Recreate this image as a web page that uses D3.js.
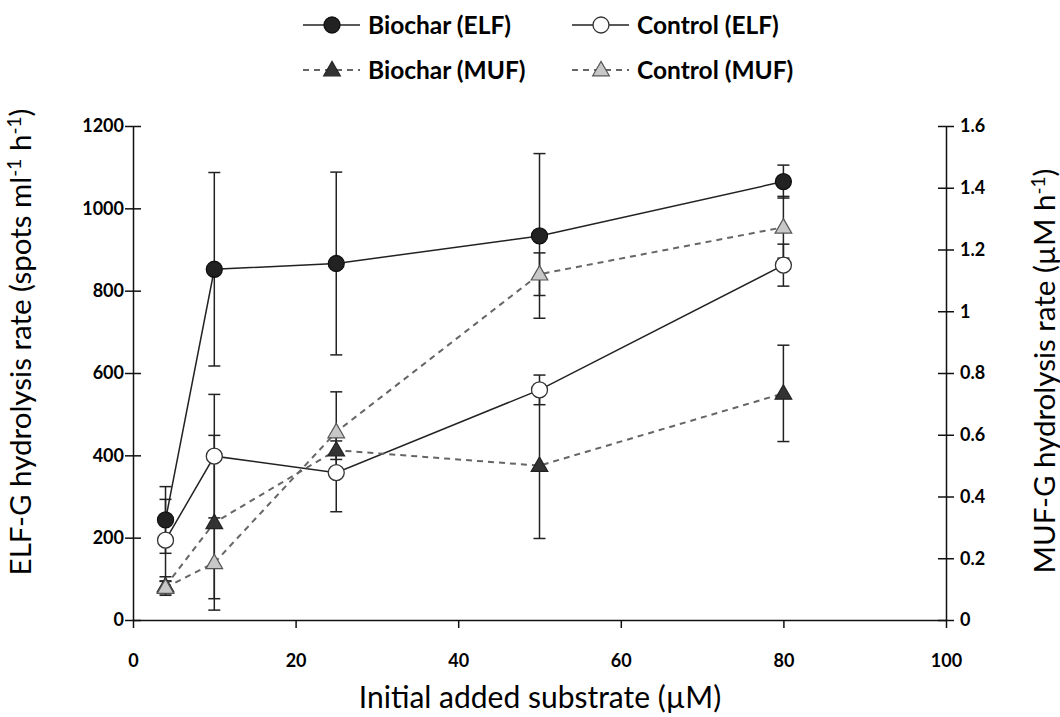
<!DOCTYPE html>
<html>
<head>
<meta charset="utf-8">
<script src="https://cdn.jsdelivr.net/npm/d3@7"></script>
<style>
  html, body { margin: 0; padding: 0; background: #fff; }
  svg { display: block; }
</style>
</head>
<body>
<svg id="chart" width="1060" height="717"></svg>
<script>
// Substrate concentrations (µM)
const substrate = [4, 10, 25, 50, 80];

// ELF-G hydrolysis rate (spots ml-1 h-1), left axis
const biocharELF    = [243, 852, 866, 933, 1065];
const biocharELFErr = [81, 235, 222, 200, 40];
const controlELF    = [194, 398, 358, 559, 862];
const controlELFErr = [99, 150, 95, 36, 51];

// MUF-G hydrolysis rate (µM h-1), right axis
const biocharMUF    = [0.11, 0.315, 0.55, 0.50, 0.734];
const biocharMUFErr = [0.03, 0.283, 0.03, 0.236, 0.156];
const controlMUF    = [0.105, 0.185, 0.609, 1.12, 1.272];
const controlMUFErr = [0.02, 0.116, 0.13, 0.069, 0.10];

// Tick values and labels
const xTicks = [0, 20, 40, 60, 80, 100];
const leftTicks = [0, 200, 400, 600, 800, 1000, 1200];
const rightTicks = [0, 0.2, 0.4, 0.6, 0.8, 1, 1.2, 1.4, 1.6];
const rightTickLabels = ["0", "0.2", "0.4", "0.6", "0.8", "1", "1.2", "1.4", "1.6"];

const svg = d3.select("#chart");
const FONT = "Lato, 'Open Sans', sans-serif";

const x  = d3.scaleLinear().domain([0, 100]).range([133, 946]);
const yL = d3.scaleLinear().domain([0, 1200]).range([620, 126]);
const yR = d3.scaleLinear().domain([0, 1.6]).range([620, 126]);

// ---- Axes ----
const axisColor = "#111";

const gx = svg.append("g")
  .attr("transform", `translate(0,${yL(0)})`)
  .call(d3.axisBottom(x).tickValues(xTicks).tickSize(8).tickSizeOuter(0).tickPadding(26)
    .tickFormat(d3.format("d")));

const gl = svg.append("g")
  .attr("transform", `translate(${x(0)},0)`)
  .call(d3.axisLeft(yL).tickValues(leftTicks).tickSize(8).tickSizeOuter(0).tickPadding(1)
    .tickFormat(d3.format("d")));
gl.selectAll(".tick line").attr("x1", 8);

const gr = svg.append("g")
  .attr("transform", `translate(${x(100)},0)`)
  .call(d3.axisRight(yR).tickValues(rightTicks).tickSize(8).tickSizeOuter(0).tickPadding(6)
    .tickFormat((d, i) => rightTickLabels[i]));
gr.selectAll(".tick line").attr("x1", -8);

[gx, gl, gr].forEach(g => {
  g.select(".domain").attr("stroke", axisColor).attr("stroke-width", 1.5);
  g.selectAll(".tick line").attr("stroke", axisColor).attr("stroke-width", 1.5);
  g.selectAll(".tick text")
    .attr("fill", "#000")
    .style("font-family", FONT)
    .style("font-weight", "bold")
    .style("font-size", "18px");
});

// ---- Axis titles ----
const TITLE_SIZE = "29.5px";
const SUP_SIZE = "19px";

svg.append("text")
  .attr("x", 540)
  .attr("y", 708)
  .attr("text-anchor", "middle")
  .style("font-family", FONT)
  .style("font-size", "30px")
  .text("Initial added substrate (µM)");

const leftTitle = svg.append("text")
  .attr("transform", "translate(31,342) rotate(-90)")
  .attr("text-anchor", "middle")
  .style("font-family", FONT)
  .style("font-size", TITLE_SIZE);
leftTitle.append("tspan").text("ELF-G hydrolysis rate (spots ml");
leftTitle.append("tspan").attr("dy", -10).style("font-size", SUP_SIZE).text("-1");
leftTitle.append("tspan").attr("dy", 10).text(" h");
leftTitle.append("tspan").attr("dy", -10).style("font-size", SUP_SIZE).text("-1");
leftTitle.append("tspan").attr("dy", 10).text(")");

const rightTitle = svg.append("text")
  .attr("transform", "translate(1055,371) rotate(-90)")
  .attr("text-anchor", "middle")
  .style("font-family", FONT)
  .style("font-size", TITLE_SIZE);
rightTitle.append("tspan").text("MUF-G hydrolysis rate (µM h");
rightTitle.append("tspan").attr("dy", -10).style("font-size", SUP_SIZE).text("-1");
rightTitle.append("tspan").attr("dy", 10).text(")");

// ---- Series ----
const series = [
  { name: "Biochar (ELF)",  y: yL, vals: biocharELF, err: biocharELFErr, dashed: false, shape: "circle",   fill: "#222",  stroke: "#111" },
  { name: "Control (ELF)",  y: yL, vals: controlELF, err: controlELFErr, dashed: false, shape: "circle",   fill: "#fff",  stroke: "#333" },
  { name: "Biochar (MUF)",  y: yR, vals: biocharMUF, err: biocharMUFErr, dashed: true,  shape: "triangle", fill: "#333",  stroke: "#222" },
  { name: "Control (MUF)",  y: yR, vals: controlMUF, err: controlMUFErr, dashed: true,  shape: "triangle", fill: "#c8c8c8", stroke: "#555" }
];

const lineColor = s => s.dashed ? "#666" : "#222";
const dash = s => s.dashed ? "6,5" : null;

const triPath = d3.symbol().type(d3.symbolTriangle).size(120);

function drawMarker(g, s) {
  if (s.shape === "circle") {
    g.append("circle").attr("r", 8)
      .attr("fill", s.fill).attr("stroke", s.stroke).attr("stroke-width", 1.3);
  } else {
    g.append("path").attr("d", triPath).attr("transform", "translate(0,1)")
      .attr("fill", s.fill).attr("stroke", s.stroke).attr("stroke-width", 1.2);
  }
}

// Error bars
const errG = svg.append("g");
series.forEach(s => {
  substrate.forEach((c, i) => {
    const cx = x(c);
    const lo = s.y(s.vals[i] - s.err[i]);
    const hi = s.y(s.vals[i] + s.err[i]);
    const g = errG.append("g").attr("stroke", "#222").attr("stroke-width", 1.5);
    g.append("line").attr("x1", cx).attr("x2", cx).attr("y1", lo).attr("y2", hi);
    g.append("line").attr("x1", cx - 6).attr("x2", cx + 6).attr("y1", lo).attr("y2", lo);
    g.append("line").attr("x1", cx - 6).attr("x2", cx + 6).attr("y1", hi).attr("y2", hi);
  });
});

// Connecting lines
series.forEach(s => {
  const line = d3.line().x((d, i) => x(substrate[i])).y(d => s.y(d));
  svg.append("path")
    .datum(s.vals)
    .attr("d", line)
    .attr("fill", "none")
    .attr("stroke", lineColor(s))
    .attr("stroke-width", s.dashed ? 2 : 1.5)
    .attr("stroke-dasharray", dash(s));
});

// Markers
series.forEach(s => {
  s.vals.forEach((v, i) => {
    const g = svg.append("g").attr("transform", `translate(${x(substrate[i])},${s.y(v)})`);
    drawMarker(g, s);
  });
});

// ---- Legend ----
const legendPos = [
  { lx: 303, ly: 25 }, { lx: 572, ly: 25 },
  { lx: 303, ly: 70 }, { lx: 572, ly: 70 }
];
series.forEach((s, i) => {
  const p = legendPos[i];
  const g = svg.append("g").attr("transform", `translate(${p.lx},${p.ly})`);
  g.append("line").attr("x1", 0).attr("x2", 57).attr("y1", 0).attr("y2", 0)
    .attr("stroke", lineColor(s)).attr("stroke-width", s.dashed ? 2 : 1.5)
    .attr("stroke-dasharray", dash(s));
  const m = g.append("g").attr("transform", "translate(29,0)");
  drawMarker(m, s);
  g.append("text").attr("x", 65).attr("y", 0).attr("dy", "0.36em")
    .style("font-family", FONT).style("font-weight", "bold").style("font-size", "24.5px")
    .text(s.name);
});
</script>
</body>
</html>
